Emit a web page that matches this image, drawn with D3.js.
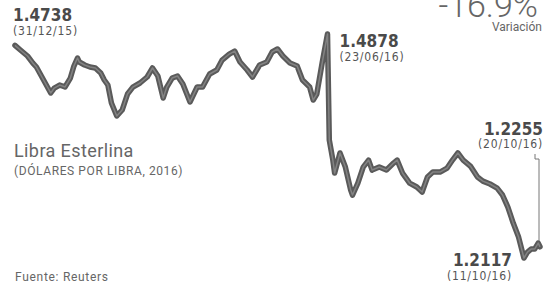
<!DOCTYPE html>
<html>
<head>
<meta charset="utf-8">
<script src="https://cdnjs.cloudflare.com/ajax/libs/d3/7.8.5/d3.min.js"></script>
<style>
  html, body { margin: 0; padding: 0; background: #fff; }
  #chart { width: 548px; height: 286px; }
</style>
</head>
<body>
<div id="chart"></div>
<script>
// GBP/USD
var dates = [
  "2015-12-31","2016-01-03","2016-01-07","2016-01-10","2016-01-12","2016-01-16","2016-01-20","2016-01-22",
  "2016-01-25","2016-01-28","2016-01-31","2016-02-02","2016-02-04","2016-02-05","2016-02-08","2016-02-11",
  "2016-02-14","2016-02-17","2016-02-19","2016-02-21","2016-02-23","2016-02-26","2016-02-29","2016-03-03",
  "2016-03-06","2016-03-10","2016-03-14","2016-03-17","2016-03-20","2016-03-23","2016-03-25","2016-03-28",
  "2016-03-31","2016-04-03","2016-04-07","2016-04-11","2016-04-14","2016-04-18","2016-04-22","2016-04-25",
  "2016-04-29","2016-05-02","2016-05-05","2016-05-09","2016-05-12","2016-05-16","2016-05-20","2016-05-23",
  "2016-05-26","2016-05-29","2016-06-02","2016-06-06","2016-06-09","2016-06-13","2016-06-15","2016-06-17",
  "2016-06-20","2016-06-23","2016-06-24","2016-06-26","2016-06-27","2016-06-30","2016-07-03","2016-07-06",
  "2016-07-07","2016-07-10","2016-07-13","2016-07-16","2016-07-18","2016-07-22","2016-07-26","2016-07-30",
  "2016-08-01","2016-08-04","2016-08-08","2016-08-12","2016-08-15","2016-08-18","2016-08-21","2016-08-25",
  "2016-08-29","2016-09-01","2016-09-04","2016-09-07","2016-09-11","2016-09-15","2016-09-18","2016-09-22",
  "2016-09-26","2016-09-29","2016-10-02","2016-10-05","2016-10-08","2016-10-11","2016-10-13","2016-10-15",
  "2016-10-17","2016-10-19","2016-10-20"
];
var values = [
  1.4738,1.4681,1.4607,1.4520,1.4471,1.4311,1.4151,1.4212,
  1.4249,1.4225,1.4335,1.4483,1.4582,1.4533,1.4496,1.4471,
  1.4459,1.4397,1.4311,1.4249,1.4027,1.3867,1.3941,1.4138,
  1.4224,1.4274,1.4348,1.4459,1.4360,1.4089,1.4224,1.4335,
  1.4360,1.4262,1.4040,1.4224,1.4224,1.4385,1.4434,1.4557,
  1.4631,1.4668,1.4533,1.4434,1.4348,1.4496,1.4533,1.4656,
  1.4693,1.4607,1.4520,1.4483,1.4311,1.4224,1.4064,1.4138,
  1.4520,1.4878,1.3571,1.3324,1.3164,1.3411,1.3238,1.2955,
  1.2893,1.3041,1.3238,1.3324,1.3201,1.3238,1.3201,1.3287,
  1.3324,1.3164,1.3041,1.2992,1.2930,1.3115,1.3176,1.3176,
  1.3226,1.3324,1.3411,1.3324,1.3250,1.3115,1.3065,1.3029,
  1.2979,1.2893,1.2745,1.2548,1.2375,1.2117,1.2190,1.2227,
  1.2227,1.2301,1.2255
];

// annotated points: [date, value, date label]
var notes = [
  ["2015-12-31", 1.4738, "(31/12/15)"],
  ["2016-06-23", 1.4878, "(23/06/16)"],
  ["2016-10-11", 1.2117, "(11/10/16)"],
  ["2016-10-20", 1.2255, "(20/10/16)"]
];

var title = "Libra Esterlina";
var subtitle = "(DÓLARES POR LIBRA, 2016)";
var source = "Fuente: Reuters";
var change = "-16.9%";
var changeLabel = "Variación";

var width = 548, height = 286;
var parse = d3.timeParse("%Y-%m-%d");

var data = dates.map(function(d, i) { return { date: parse(d), value: values[i] }; });

var svg = d3.select("#chart").append("svg")
  .attr("width", width)
  .attr("height", height);

var x = d3.scaleTime()
  .domain(d3.extent(data, function(d) { return d.date; }))
  .range([15, 540]);

var y = d3.scaleLinear()
  .domain(d3.extent(values))
  .range([258, 34]);

var line = d3.line()
  .x(function(d) { return x(d.date); })
  .y(function(d) { return y(d.value); });

var numFont = "'DejaVu Sans Condensed', 'DejaVu Sans', sans-serif";
var txtFont = "Roboto, 'Noto Sans', sans-serif";
var dateFont = "'DejaVu Sans Condensed', 'DejaVu Sans', sans-serif";

// leader line for the last value
var last = notes[3];
var lx = x(parse(last[0])) - 1;
svg.append("path")
  .attr("d", "M" + (lx - 4) + ",154V159H" + lx + "V" + (y(last[1]) - 2))
  .attr("fill", "none")
  .attr("stroke", "#777")
  .attr("stroke-width", 1);

// the line, dark band with lighter core
svg.append("path")
  .datum(data)
  .attr("d", line)
  .attr("fill", "none")
  .attr("stroke", "#5a5a5a")
  .attr("stroke-width", 5.5)
  .attr("stroke-linejoin", "round")
  .attr("stroke-linecap", "round");

svg.append("path")
  .datum(data)
  .attr("d", line)
  .attr("fill", "none")
  .attr("stroke", "#838383")
  .attr("stroke-width", 1.5)
  .attr("stroke-linejoin", "round");

// value labels
function label(n, dx, dy, anchor) {
  var px = x(parse(n[0])) + dx, py = y(n[1]) + dy;
  svg.append("text")
    .attr("x", px).attr("y", py)
    .attr("text-anchor", anchor)
    .attr("font-family", numFont)
    .attr("font-weight", "bold")
    .attr("font-size", 17)
    .attr("fill", "#4a4a4a")
    .text(d3.format(".4f")(n[1]));
  svg.append("text")
    .attr("x", px).attr("y", py + 13.5)
    .attr("text-anchor", anchor)
    .attr("font-family", dateFont)
    .attr("font-size", 12)
    .attr("letter-spacing", 0.8)
    .attr("fill", "#555")
    .text(n[2]);
}

label(notes[0], -2, -24, "start");
label(notes[1], 12, 13, "start");
label(notes[2], -12, 8, "end");
label(notes[3], 3, -112, "end");

// variation
svg.append("text")
  .attr("x", 538).attr("y", 17)
  .attr("text-anchor", "end")
  .attr("font-family", txtFont)
  .attr("font-weight", 300)
  .attr("font-size", 34)
  .attr("fill", "#666")
  .text(change);

svg.append("text")
  .attr("x", 542).attr("y", 31)
  .attr("text-anchor", "end")
  .attr("font-family", txtFont)
  .attr("font-size", 12)
  .attr("fill", "#666")
  .text(changeLabel);

// title block
svg.append("text")
  .attr("x", 14).attr("y", 157)
  .attr("font-family", txtFont)
  .attr("font-size", 18)
  .attr("letter-spacing", 0.4)
  .attr("fill", "#666")
  .text(title);

svg.append("text")
  .attr("x", 14).attr("y", 175)
  .attr("font-family", txtFont)
  .attr("font-size", 12)
  .attr("letter-spacing", 0.6)
  .attr("fill", "#666")
  .text(subtitle);

svg.append("text")
  .attr("x", 15).attr("y", 281)
  .attr("font-family", txtFont)
  .attr("font-size", 12)
  .attr("letter-spacing", 0.7)
  .attr("fill", "#666")
  .text(source);
</script>
</body>
</html>
